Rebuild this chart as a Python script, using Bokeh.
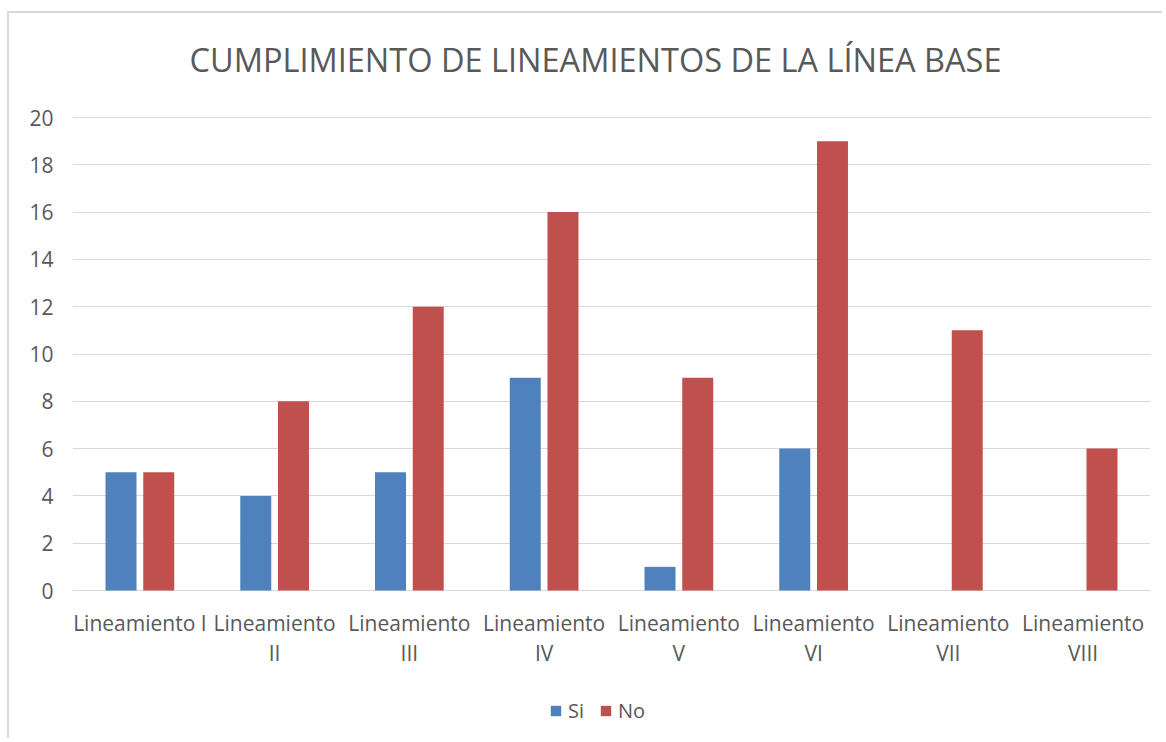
from bokeh.plotting import figure
from bokeh.models import (Range1d, FactorRange, Legend, LegendItem, FixedTicker,
                          ColumnDataSource, LabelSet, Label)
from bokeh.core.properties import value
from bokeh.transform import dodge
from bokeh.embed import file_html
from bokeh.resources import INLINE

categories = ["Lineamiento I", "Lineamiento II", "Lineamiento III", "Lineamiento IV",
              "Lineamiento V", "Lineamiento VI", "Lineamiento VII", "Lineamiento VIII"]
label_line1 = ["Lineamiento I", "Lineamiento", "Lineamiento", "Lineamiento",
               "Lineamiento", "Lineamiento", "Lineamiento", "Lineamiento"]
label_line2 = ["", "II", "III", "IV", "V", "VI", "VII", "VIII"]
si_values = [5, 4, 5, 9, 1, 6, 0, 0]
no_values = [5, 8, 12, 16, 9, 19, 11, 6]
y_ticks = [0, 2, 4, 6, 8, 10, 12, 14, 16, 18, 20]
title_text = "CUMPLIMIENTO DE LINEAMIENTOS DE LA LÍNEA BASE"

BLUE = "#4F81BD"
RED = "#C0504D"
GRAY_TXT = "#595959"
GRID = "#d9d9d9"
FONT = "Open Sans"

# layout (pixels): frame spans the whole canvas height so the texts around the bars
# (title, category labels, legend) are drawn inside it without clipping
W, H = 1155, 727
PX_PER_UNIT = 23.65          # 20 units over 473 px
ABOVE_20 = 104               # px from canvas top to the value 20
BELOW_0 = 150                # px from the value 0 to canvas bottom
y_lo = min(y_ticks) - BELOW_0 / PX_PER_UNIT
y_hi = max(y_ticks) + ABOVE_20 / PX_PER_UNIT

src = ColumnDataSource(dict(cat=categories, si=si_values, no=no_values,
                            l1=label_line1, l2=label_line2,
                            base=[0] * len(categories)))

p = figure(x_range=FactorRange(factors=categories), y_range=Range1d(y_lo, y_hi),
           width=W, height=H, output_backend="svg", toolbar_location=None,
           min_border_left=63, min_border_right=14, min_border_top=0, min_border_bottom=0)

r_si = p.vbar(x=dodge("cat", -0.14, range=p.x_range), top="si", width=0.23, source=src,
              fill_color=BLUE, line_color=None)
r_no = p.vbar(x=dodge("cat", 0.14, range=p.x_range), top="no", width=0.23, source=src,
              fill_color=RED, line_color=None)

p.outline_line_color = None
p.xgrid.grid_line_color = None
p.xaxis.visible = False

p.yaxis.ticker = FixedTicker(ticks=y_ticks)
p.ygrid.ticker = FixedTicker(ticks=y_ticks)
p.ygrid.grid_line_color = GRID
p.ygrid.grid_line_width = 1
p.yaxis.axis_line_color = None
p.yaxis.major_tick_line_color = None
p.yaxis.minor_tick_line_color = None
p.yaxis.major_tick_out = 0
p.yaxis.major_label_standoff = 19
p.yaxis.major_label_text_font = FONT
p.yaxis.major_label_text_font_size = "21px"
p.yaxis.major_label_text_color = GRAY_TXT

title = Label(x=0, y=0, x_offset=117, y_offset=531, text=title_text,
              text_font=FONT, text_font_size="32.5px", text_color=GRAY_TXT,
              text_align="left", text_baseline="alphabetic")
p.add_layout(title)

for col, off in (("l1", -40), ("l2", -70)):
    ls = LabelSet(x="cat", y="base", text=col, source=src, y_offset=off,
                  text_align="center", text_baseline="alphabetic",
                  text_font=value(FONT), text_font_size=value("21px"),
                  text_color=GRAY_TXT)
    p.add_layout(ls)

legend = Legend(items=[LegendItem(label="Si", renderers=[r_si]),
                       LegendItem(label="No", renderers=[r_no])],
                orientation="horizontal", location=(477, 16),
                label_text_font=FONT, label_text_font_size="20px", label_text_color=GRAY_TXT,
                glyph_width=13, glyph_height=13, spacing=11, label_standoff=6,
                border_line_color=None, background_fill_alpha=0, margin=0, padding=4)
p.add_layout(legend, "center")

p.styles = {"border-top": "2px solid #d9d9d9", "border-left": "2px solid #d9d9d9",
            "margin-left": "7px", "margin-top": "11px"}

open("out.html", "w").write(file_html(p, INLINE))
